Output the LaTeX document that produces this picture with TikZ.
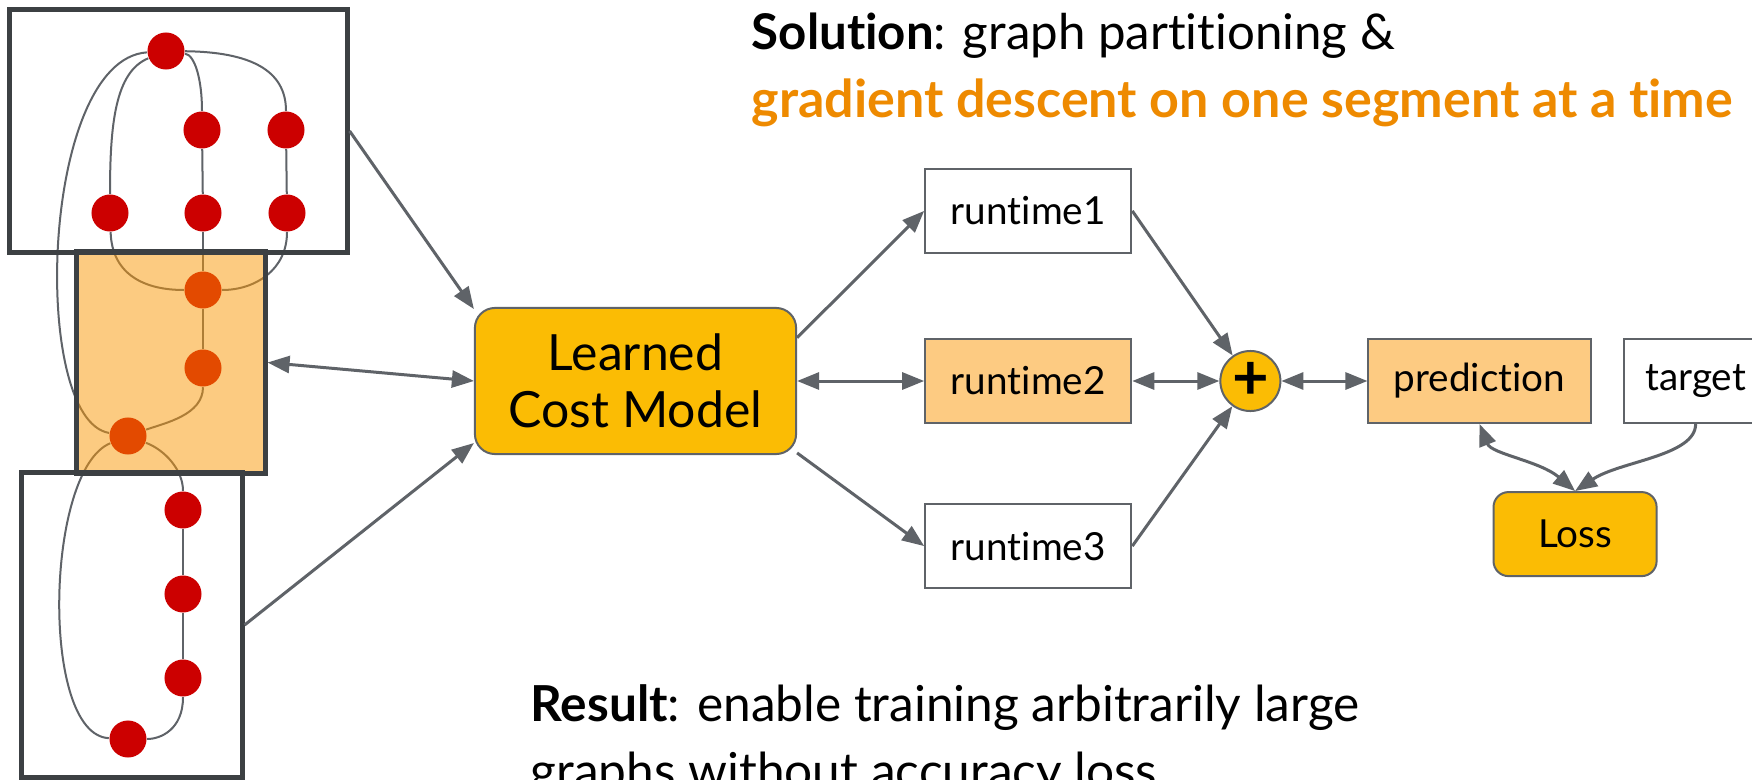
\documentclass[tikz,border=0pt]{standalone}
\usepackage{fontspec}
\setmainfont{Lato}[Ligatures=NoCommon]
\usetikzlibrary{positioning, arrows.meta, backgrounds}
\definecolor{segBorder}{HTML}{3C4043}
\definecolor{lineGray}{HTML}{5F6368}
\definecolor{dotRed}{HTML}{CC0000}
\definecolor{dotOrange}{HTML}{E34A00}
\definecolor{costYellow}{HTML}{FBBC04}
\definecolor{lightOrange}{HTML}{FDCB82}
\definecolor{segFill}{RGB}{251,152,5}
\definecolor{textOrange}{HTML}{EE8A00}
\tikzstyle{graphdot} =[circle, inner sep=0pt, minimum size=0.37cm, fill=dotRed]
\tikzstyle{hotdot} =[graphdot, fill=dotOrange]
\tikzstyle{graphedge} =[draw=lineGray, line width=0.02cm]
\tikzstyle{partbox} =[draw=segBorder, line width=0.05cm, inner sep=0pt]
\tikzstyle{flowbox} =[draw=lineGray, line width=0.02cm, minimum width=2.06cm, minimum height=0.84cm, font=\fontsize{11pt}{13pt}\selectfont]
\tikzstyle{flow} =[-{Triangle[length=0.22cm, width=0.17cm]}, draw=lineGray, line width=0.03cm]
\tikzstyle{bothflow} =[{Triangle[length=0.22cm, width=0.17cm]}-{Triangle[length=0.22cm, width=0.17cm]}, draw=lineGray, line width=0.03cm]

\begin{document}
\begin{tikzpicture}[x=0.01cm, y=-0.01cm]
\useasboundingbox (0,0) rectangle (1752,779);

% graph split into three segments
\node (t0) [graphdot] at (166,51) {};
\node (m1) [graphdot] at (202,130) {};
\node (m2) [graphdot] at (286,130) {};
\node (b1) [graphdot] at (110,213) {};
\node (b2) [graphdot] at (203,213) {};
\node (b3) [graphdot] at (287,213) {};
\node (o1) [hotdot] at (203,290) {};
\node (o2) [hotdot] at (203,368) {};
\node (o3) [hotdot] at (128,436) {};
\node (d1) [graphdot] at (183,510) {};
\node (d2) [graphdot] at (183,594) {};
\node (d3) [graphdot] at (183,678) {};
\node (d4) [graphdot] at (128,739) {};

\begin{scope}[on background layer]
\fill[white] (0,0) rectangle (1752,779);
\draw[graphedge] (t0) .. controls (40,60) and (30,420) .. (o3);
\draw[graphedge] (t0) .. controls (115,72) and (110,125) .. (b1);
\draw[graphedge] (t0) .. controls (195,55) and (202,80) .. (m1);
\draw[graphedge] (t0) .. controls (250,52) and (286,70) .. (m2);
\draw[graphedge] (m1) -- (b2);
\draw[graphedge] (m2) -- (b3);
\draw[graphedge] (b1) .. controls (112,275) and (145,290) .. (o1);
\draw[graphedge] (b3) .. controls (287,270) and (255,290) .. (o1);
\draw[graphedge] (b2) -- (o1) -- (o2);
\draw[graphedge] (o2) .. controls (203,415) and (165,423) .. (o3);
\draw[graphedge] (o3) .. controls (165,450) and (183,470) .. (d1);
\draw[graphedge] (o3) .. controls (45,470) and (40,735) .. (d4);
\draw[graphedge] (d1) -- (d2) -- (d3);
\draw[graphedge] (d3) .. controls (183,730) and (160,739) .. (d4);

\node (seg2) [partbox, fill=segFill, fill opacity=0.5, minimum width=1.88cm, minimum height=2.21cm] at (171,362.5) {};
\node (seg1) [partbox, minimum width=3.37cm, minimum height=2.42cm] at (178.5,131) {};
\node (seg3) [partbox, minimum width=2.2cm, minimum height=3.04cm] at (132,625) {};
\end{scope}

% cost model and the per-segment runtimes
\node (lcm) [draw=lineGray, line width=0.02cm, fill=costYellow, rounded corners=0.2cm, minimum width=3.21cm, minimum height=1.46cm, align=center, font=\fontsize{14.2pt}{16.2pt}\selectfont] at (635.5,381) {Learned\\Cost Model};

\node (rt2) [flowbox, fill=lightOrange, right=1.27cm of lcm] {runtime2};
\node (rt1) [flowbox, above=0.84cm of rt2] {runtime1};
\node (rt3) [flowbox, below=0.79cm of rt2] {runtime3};

\node (plus) [circle, draw=lineGray, line width=0.02cm, fill=costYellow, minimum size=0.6cm, inner sep=0pt, right=0.87cm of rt2, font=\fontsize{18pt}{18pt}\selectfont\bfseries] {+};

\node (pred) [flowbox, fill=lightOrange, minimum width=2.22cm, right=0.86cm of plus] {prediction};
\node (target) [flowbox, minimum width=1.44cm, right=0.31cm of pred] {target};
\node (loss) [flowbox, fill=costYellow, rounded corners=0.15cm, minimum width=1.63cm, below=0.67cm of pred.south, xshift=0.955cm] {Loss};

\draw[flow] (seg1.east) -- (lcm.156);
\draw[bothflow] (seg2.east) -- (lcm.west);
\draw[flow] (seg3.east) -- (lcm.201);

\draw[flow] (lcm.15) -- (rt1.west);
\draw[bothflow] (lcm.east) -- (rt2.west);
\draw[flow] (lcm.336) -- (rt3.west);

\draw[flow] (rt1.east) -- (plus);
\draw[bothflow] (rt2.east) -- (plus);
\draw[flow] (rt3.east) -- (plus);
\draw[bothflow] (plus) -- (pred.west);

\draw[bothflow] (pred.south) .. controls +(12,30) and +(-35,-30) .. (loss.north);
\draw[flow] (target.south) .. controls +(0,32) and +(45,-30) .. (loss.north);

% captions
\node (solution) [anchor=base west, inner sep=0pt, align=left, font=\fontsize{14pt}{19.3pt}\selectfont] at (751,117) {\textbf{Solution}: graph partitioning \&\\{\color{textOrange}\fontsize{14.8pt}{19.3pt}\selectfont\bfseries gradient descent on one segment at a time}};
\node (result) [anchor=base west, inner sep=0pt, align=left, font=\fontsize{14.1pt}{19pt}\selectfont] at (530,788) {\textbf{Result}: enable training arbitrarily large\\graphs without accuracy loss};

\end{tikzpicture}
\end{document}
